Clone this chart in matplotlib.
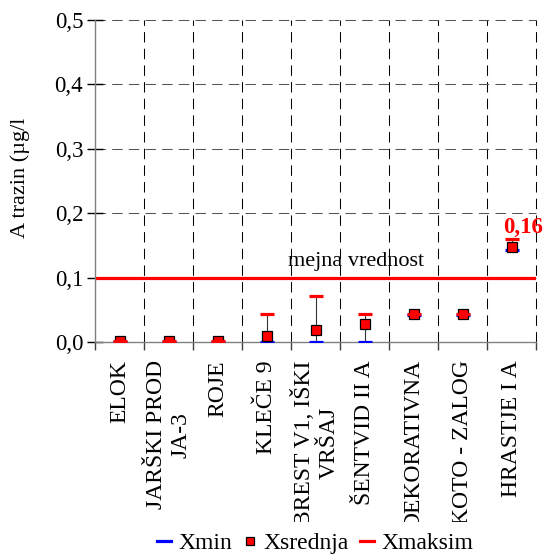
import matplotlib
matplotlib.use("Agg")
import matplotlib.pyplot as plt
import numpy as np
from matplotlib.lines import Line2D
from matplotlib.transforms import Bbox, TransformedBbox
from matplotlib.ticker import FixedLocator, FuncFormatter

plt.rcParams['font.family'] = ['Liberation Serif', 'DejaVu Serif']

# Sampling points and measured atrazine concentrations (µg/l)
categories = ["ELOK", "JARŠKI PROD\nJA-3", "ROJE", "KLEČE 9",
              "BREST V1, IŠKI\nVRŠAJ", "ŠENTVID II A", "DEKORATIVNA",
              "KOTO - ZALOG", "HRASTJE I A"]
x_min = [0.0, 0.0, 0.0, 0.0, 0.0, 0.0, 0.042, 0.042, 0.143]
x_mean = [0.001, 0.001, 0.001, 0.009, 0.019, 0.028, 0.043, 0.043, 0.148]
x_max = [0.002, 0.002, 0.002, 0.043, 0.071, 0.043, 0.044, 0.044, 0.16]
limit_value = 0.1
y_ticks = [0.0, 0.1, 0.2, 0.3, 0.4, 0.5]

W, H = 547, 554
fig = plt.figure(figsize=(W / 100, H / 100), dpi=100)
ax = fig.add_axes([95 / W, 1 - 342 / H, (536 - 95) / W, (342 - 20) / H])

n = len(categories)
pos = np.arange(n) + 0.5
ax.set_xlim(0, n)
ax.set_ylim(0, 0.5)

# grid: black dashed verticals between categories, grey dashed horizontals
for xb in range(1, n + 1):
    ax.axvline(xb, color='black', lw=0.75, dashes=(10, 6), zorder=1, clip_on=False)
for yv in y_ticks[1:]:
    ax.axhline(yv, color='#555555', lw=0.75, dashes=(10, 6), zorder=1, clip_on=False)

# limit value
ax.axhline(limit_value, color='#ff0000', lw=2.3, zorder=2)
ax.annotate('mejna vrednost', xy=(5.33, limit_value), xytext=(0, 7),
            textcoords='offset pixels', ha='center', va='bottom', fontsize=16)

# min-max ranges and means
ax.vlines(pos, x_min, x_max, color='#333333', lw=0.8, zorder=3)
ax.plot(pos, x_min, ls='none', marker='_', ms=10, mew=2.3, color='#0000ff', zorder=4)
ax.plot(pos, x_mean, ls='none', marker='s', ms=6.5, mfc='#ff0000', mec='black', mew=0.9, zorder=5)
ax.plot(pos, x_max, ls='none', marker='_', ms=10, mew=2.3, color='#ff0000', zorder=6)

ax.annotate(f"{x_max[-1]:.2f}".replace('.', ','), xy=(pos[-1], x_max[-1]), xytext=(12, 6),
            textcoords='offset pixels', ha='center', va='baseline',
            fontsize=16.5, fontweight='bold', color='#ff0000', annotation_clip=False)

# spines
for s in ['top', 'right']:
    ax.spines[s].set_visible(False)
for s in ['left', 'bottom']:
    ax.spines[s].set_color('#808080')
    ax.spines[s].set_linewidth(1.0)

# y axis
ax.yaxis.set_major_locator(FixedLocator(y_ticks))
ax.yaxis.set_major_formatter(FuncFormatter(lambda v, p: f"{v:.1f}".replace('.', ',')))
ax.tick_params(axis='y', direction='inout', length=11, width=1, color='black',
               labelsize=16.5, pad=3)

# x axis: boundary ticks, centred labels
ax.set_xticks(pos)
ax.set_xticklabels(categories, rotation=90, ha='center', va='top',
                   multialignment='center', fontsize=17)
ax.set_xticks(np.arange(0, n + 1), minor=True)
ax.tick_params(axis='x', which='major', length=0, pad=13)
ax.tick_params(axis='x', which='minor', direction='out', length=6, width=1, color='#404040')

clip = TransformedBbox(Bbox([[0, (H - 522) / H], [1, 1]]), fig.transFigure)
for lbl in ax.get_xticklabels():
    lbl.set_clip_box(clip)
    lbl.set_clip_on(True)

fig.text(20 / W, 1 - 178 / H, 'A trazin (µg/l', rotation=90, ha='center', va='center',
         fontsize=16)

handles = [
    Line2D([], [], color='#0000ff', lw=2.3),
    Line2D([], [], ls='none', marker='s', ms=5.5, mfc='#ff0000', mec='black', mew=0.9),
    Line2D([], [], color='#ff0000', lw=2.3),
]
fig.legend(handles, ['Xmin', 'Xsrednja', 'Xmaksim'], loc='center',
           bbox_to_anchor=(315 / W, 1 - 543 / H), ncol=3, frameon=False,
           fontsize=17, handlelength=0.6, handletextpad=0.3, columnspacing=0.45,
           borderpad=0)

fig.savefig('out.png', dpi=100)
